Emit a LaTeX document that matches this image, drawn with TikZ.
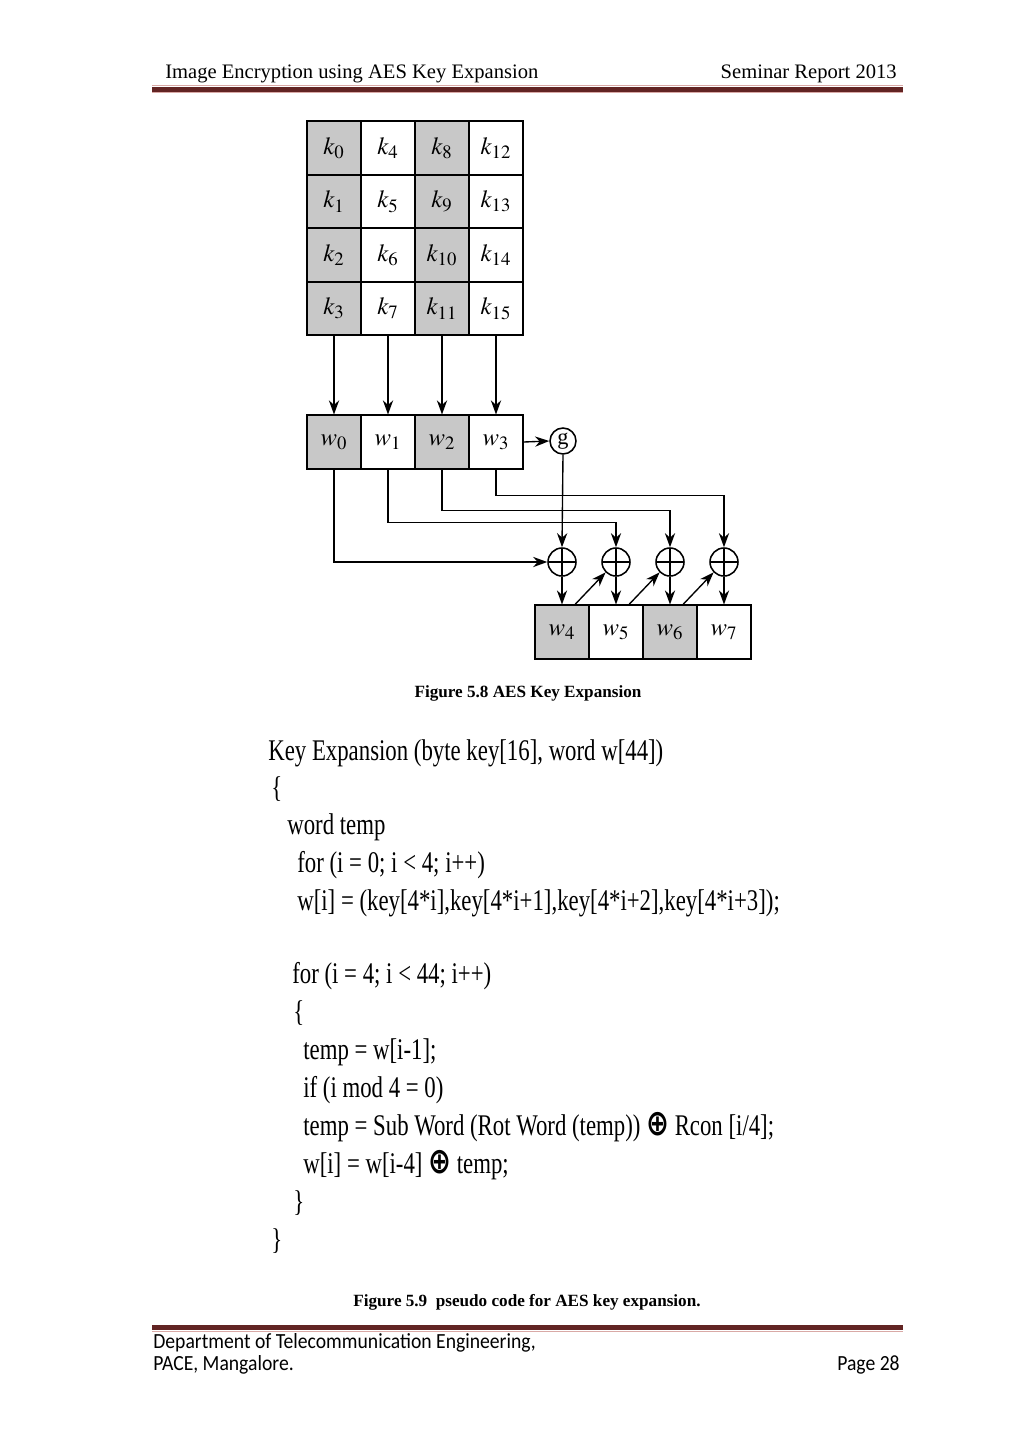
\documentclass[tikz,border=0pt]{standalone}
\usepackage{mathptmx}
\usepackage[no-math]{fontspec}
\setmainfont{Liberation Serif}
\newfontfamily\footfont{Carlito}
\newfontfamily\symfont{DejaVu Sans}
\usepackage{graphicx}
\usetikzlibrary{arrows.meta,positioning,calc}
\definecolor{keygray}{HTML}{C8C8C8}
\definecolor{rulered}{HTML}{622423}
\definecolor{rulepink}{HTML}{D9A9A6}
\newcommand{\codefont}{\fontsize{17.5}{21}\selectfont}
\newcommand{\cl}[1]{\scalebox{0.76}[1]{#1}}
\newcommand{\xorsym}{{\symfont\bfseries\fontsize{21}{21}\selectfont ⊕}}

\begin{document}
\begin{tikzpicture}[
    x=0.020508cm, y=-0.020508cm,
    >=Stealth,
    kcell/.style={
        draw,
        line width=0.9pt,
        minimum width=1.107cm,
        minimum height=1.097cm,
        inner sep=0pt,
        font=\fontsize{14.4}{16}\selectfont
    },
    xorop/.style={
        circle,
        draw,
        line width=0.9pt,
        minimum size=0.574cm,
        inner sep=0pt,
        path picture={
            \draw[line width=0.9pt]
                (path picture bounding box.north) -- (path picture bounding box.south)
                (path picture bounding box.west) -- (path picture bounding box.east);
        }
    },
    gfun/.style={
        circle,
        draw,
        line width=0.9pt,
        minimum size=0.533cm,
        inner sep=0pt,
        font=\fontsize{13}{13}\selectfont
    },
    arrow/.style={
        -{Stealth[length=2.9mm,width=2.1mm]},
        line width=0.8pt
    },
    header/.style={
        inner sep=0pt,
        font=\fontsize{12}{14}\selectfont
    },
    caption/.style={
        inner sep=0pt,
        anchor=base,
        font=\fontsize{10}{12}\selectfont\bfseries
    },
    codeline/.style={
        inner sep=0pt,
        anchor=base west,
        font=\codefont
    },
    footer/.style={
        inner sep=0pt,
        font=\footfont\fontsize{12.6}{15}\selectfont
    }
]

\useasboundingbox (0,0) rectangle (1024,1449);
\fill[white] (0,0) rectangle (1024,1449);

% page header
\node[header, anchor=base west] (htitle) at (165,78) {Image Encryption using AES Key Expansion};
\node[header, anchor=base east] (hreport) at (897,78) {Seminar Report 2013};
\fill[rulepink] (152,85) rectangle (903,86.2);
\fill[rulered] (152,87.2) rectangle (903,91.8);
\fill[rulepink] (152,92.3) rectangle (903,93.3);

% key matrix
\foreach \c/\x/\f in {0/334/keygray,1/388/white,2/442/keygray,3/496/white}
    \foreach \r/\y in {0/148,1/201.5,2/255,3/308.5} {
        \pgfmathtruncatemacro{\n}{4*\c+\r}
        \node[kcell, fill=\f] (k\n) at (\x,\y) {$k_{\n}$};
    }

% first round key words
\foreach \i/\x/\f in {0/334/keygray,1/388/white,2/442/keygray,3/496/white}
    \node[kcell, fill=\f] (w\i) at (\x,442) {$w_{\i}$};

\foreach \a/\b in {k3/w0,k7/w1,k11/w2,k15/w3}
    \draw[arrow] (\a.south) -- (\b.north);

\node[gfun] (g) at (563,441) {g};
\draw[arrow] (w3.east) -- (g.west);

% xor stage
\foreach \i/\x in {1/562,2/616,3/670,4/724}
    \node[xorop] (x\i) at (\x,562) {};

\foreach \i/\x/\f in {4/562/keygray,5/616/white,6/670/keygray,7/724/white}
    \node[kcell, fill=\f] (w\i) at (\x,632) {$w_{\i}$};

\draw[arrow] (g.south) -- (x1.north);
\draw[arrow] (w0.south) |- (x1.west);
\draw[arrow] (w1.south) -- ++(0,53) -| (x2.north);
\draw[arrow] (w2.south) -- ++(0,41) -| (x3.north);
\draw[arrow] (w3.south) -- ++(0,26) -| (x4.north);

\foreach \a/\b in {x1/w4,x2/w5,x3/w6,x4/w7}
    \draw[arrow] (\a.south) -- (\b.north);

\foreach \a/\b in {w4/x2,w5/x3,w6/x4}
    \draw[arrow] ($(\a.north)+(13,0)$) -- (\b.225);

\node[caption] (cap1) at (528,697) {Figure 5.8 AES Key Expansion};

% pseudo code
\node[codeline] (c1) at (268,760) {\cl{Key Expansion (byte key[16], word w[44])}};
\node[codeline] (c2) at (271,797) {\cl{\{}};
\node[codeline] (c3) at (287,834) {\cl{word temp}};
\node[codeline] (c4) at (297,872) {\cl{for (i = 0; i < 4; i++)}};
\node[codeline] (c5) at (297,910) {\cl{w[i] = (key[4*i],key[4*i+1],key[4*i+2],key[4*i+3]);}};
\node[codeline] (c6) at (292,983) {\cl{for (i = 4; i < 44; i++)}};
\node[codeline] (c7) at (293,1021) {\cl{\{}};
\node[codeline] (c8) at (303,1059) {\cl{temp = w[i-1];}};
\node[codeline] (c9) at (303,1097) {\cl{if (i mod 4 = 0)}};
\node[codeline] (c10) at (303,1135) {\cl{temp = Sub Word (Rot Word (temp)) \xorsym{} Rcon [i/4];}};
\node[codeline] (c11) at (303,1173) {\cl{w[i] = w[i-4] \xorsym{} temp;}};
\node[codeline] (c12) at (293,1211) {\cl{\}}};
\node[codeline] (c13) at (271,1249) {\cl{\}}};

\node[caption] (cap2) at (527,1306) {Figure 5.9\ \ pseudo code for AES key expansion.};

% page footer
\fill[rulered] (152,1325) rectangle (903,1329.5);
\fill[rulepink] (152,1330.5) rectangle (903,1331.7);
\node[footer, anchor=base west] (fdept) at (153,1348) {\scalebox{0.91}[1]{Department of Telecommunication Engineering,}};
\node[footer, anchor=base west] (fplace) at (153,1370) {\scalebox{0.91}[1]{PACE, Mangalore.}};
\node[footer, anchor=base east] (fpage) at (900,1370) {\scalebox{0.91}[1]{Page 28}};

\end{tikzpicture}
\end{document}
